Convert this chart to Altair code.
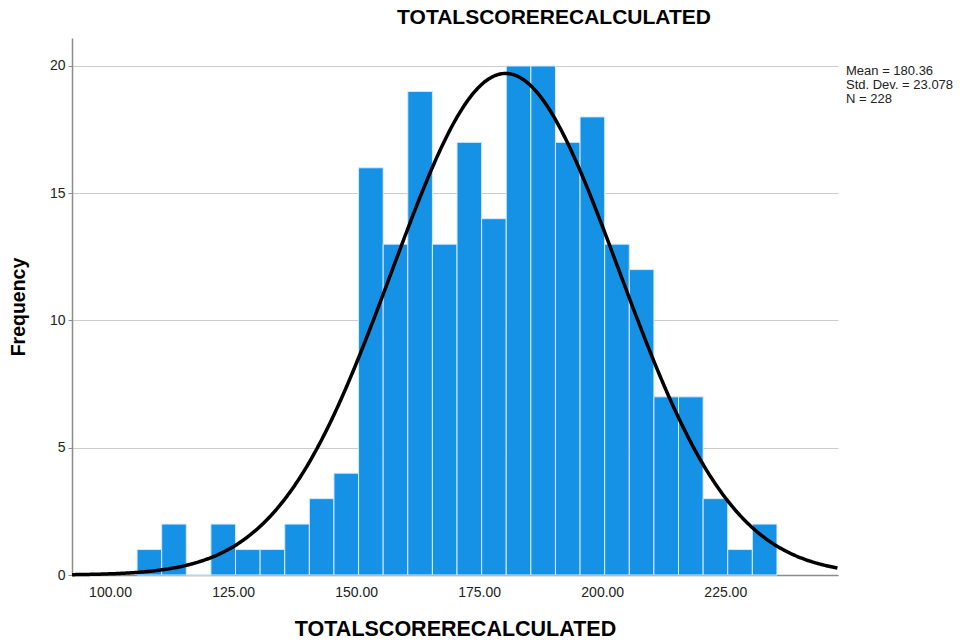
import altair as alt
import pandas as pd

# ---- data ----
bin_centers = [108, 113, 118, 123, 128, 133, 138, 143, 148, 153, 158, 163, 168,
               173, 178, 183, 188, 193, 198, 203, 208, 213, 218, 223, 228, 233]
counts = [1, 2, 0, 2, 1, 1, 2, 3, 4, 16, 13, 19, 13, 17, 14, 20, 20, 17, 18, 13,
          12, 7, 7, 3, 1, 2]
bin_width = 5
mean_val = 180.36
sd_val = 23.078
n_val = 228
stat_lines = ["Mean = 180.36", "Std. Dev. = 23.078", "N = 228"]
x_ticks = [100, 125, 150, 175, 200, 225]
y_ticks = [0, 5, 10, 15, 20]
x_domain = [92.28, 247.9]
y_domain = [0, 21.1]
title_text = "TOTALSCORERECALCULATED"

bars_df = pd.DataFrame({"center": bin_centers, "count": counts})

xscale = alt.Scale(domain=x_domain, nice=False, zero=False)
yscale = alt.Scale(domain=y_domain, nice=False)

x_axis = alt.Axis(values=x_ticks, format=".2f", ticks=False, grid=False,
                  labelFontSize=14, labelFont="Liberation Sans", labelColor="#222222",
                  labelPadding=10, domainColor="#8c8c8c", domainWidth=1.5,
                  title=title_text, titleFont="Liberation Sans",
                  titleFontSize=21.5, titleFontWeight="bold", titleColor="#000000",
                  titlePadding=19)
y_axis = alt.Axis(values=y_ticks, format="d", tickSize=4, tickColor="#8c8c8c",
                  grid=True, gridColor="#cccccc", gridWidth=1,
                  labelFontSize=14, labelFont="Liberation Sans", labelColor="#222222",
                  labelPadding=3, domainColor="#8c8c8c", domainWidth=1.5,
                  title="Frequency", titleFont="Liberation Sans",
                  titleFontSize=19.5, titleFontWeight="bold", titleColor="#000000",
                  titlePadding=21)

bars = alt.Chart(bars_df).transform_calculate(
    lo=f"datum.center - {bin_width}/2",
    hi=f"datum.center + {bin_width}/2",
).mark_rect(color="#1591e6", stroke="#d6ebfa", strokeWidth=1).encode(
    x=alt.X("lo:Q", scale=xscale, axis=x_axis),
    x2="hi:Q",
    y=alt.Y("count:Q", scale=yscale, axis=y_axis),
    y2=alt.datum(0),
)

curve = alt.Chart(alt.sequence(x_domain[0], x_domain[1] + 0.05, 0.25, as_="x")).transform_calculate(
    y=f"{n_val}*{bin_width}*exp(-0.5*pow((datum.x-{mean_val})/{sd_val},2))/({sd_val}*sqrt(2*PI))"
).mark_line(color="#000000", strokeWidth=3.5).encode(
    x=alt.X("x:Q", scale=xscale),
    y=alt.Y("y:Q", scale=yscale),
)

stats = alt.Chart(pd.DataFrame({"k": [0]})).mark_text(
    align="left", baseline="top", fontSize=13, lineHeight=14,
    font="Liberation Sans", color="#222222",
).encode(
    x=alt.value(774),
    y=alt.value(27),
    text=alt.value(stat_lines),
)

chart = alt.layer(bars, curve, stats).properties(
    width=766,
    height=537,
    title=alt.TitleParams(title_text, fontSize=21, font="Liberation Sans",
                          fontWeight="bold", color="#000000", anchor="middle",
                          dx=99, offset=10),
    autosize=alt.AutoSizeParams(type="none"),
    padding={"left": 72, "top": 38, "right": 131, "bottom": 68},
    background="#ffffff",
).configure_view(strokeWidth=0)

chart.save("out.html", embed_options={"renderer": "svg", "actions": False})
